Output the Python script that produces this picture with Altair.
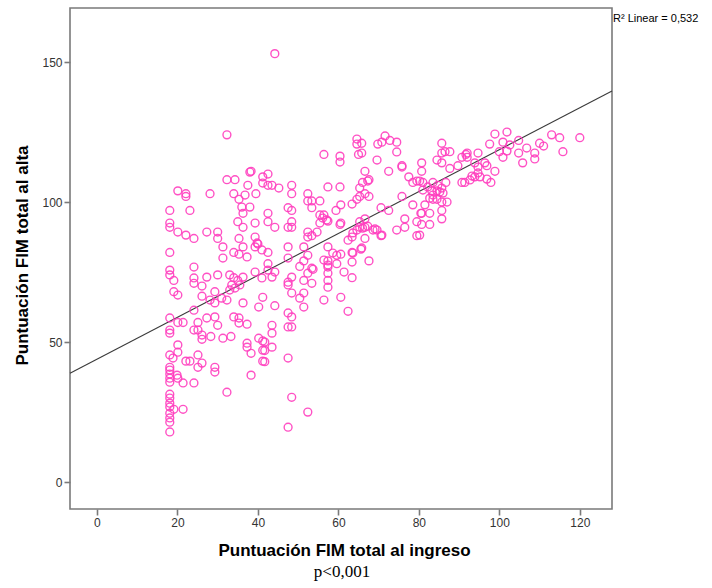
import altair as alt
import pandas as pd

# (ingreso, alta) pairs, grouped by x-range
grupo_bajo = [
    (32.3,124),(38.3,111),(32.3,108),(34.3,108),(38,110.7),(41.2,109),(41.2,106.8),
    (18.1,97),(18.1,92.5),(18.1,91),(20.1,104),(22.1,103),(22.1,102),(28.1,103),(23.1,97),(34,103),
    (35.3,101),(36,98.2),(38,98.2),(36.3,96),(35,93),(36.3,91),(39.3,92.5),(37.5,106),(39.5,103),(36.8,102.5),
    (20.1,89.3),(22.1,88.2),(24.1,87),(27.3,89.3),(30,89.3),(30,87),(31.3,84),(31.3,80),(34,82),(35.3,81.4),
    (37.3,80.4),(35.3,87),(36.3,84),(39.3,87.5),(39.3,84),(40,85),(41,82.9),(39.8,85.4),(18.1,82),
    (24.1,76.8),(18.1,75.7),(18.1,74),(19.1,72),(24.1,72.9),(24.1,71),(26.1,70),(27.3,73.2),(30,74),(33,74),
    (34,73),(35,72),(36.3,73.2),(33.5,70.4),(35.5,70.4),(39.3,75),(41,72.9),
    (19.1,68),(20.1,66.8),(26.1,66.4),(29.3,68),(28.1,65),(29.3,64),(31,65.7),(32.3,65),(33,68.6),(34.3,69.3),
    (36.3,64),(40.2,62.5),(41.2,66),
    (18.1,58.6),(18.1,54.3),(18.1,53.2),(20.1,57),(21.4,57),(24.1,61.4),(25.1,57),(27.3,58.6),(29.3,59),(30,56),
    (25.1,54.3),(24.1,54.3),(26.1,52.5),(26.1,51),(28.3,52),(31.3,51.4),(33.3,52),(34,59),(35.3,58.6),(35.3,56.8),(37.3,56.4),
    (37.3,49.6),(37.3,48.2),(38.3,46),(40.2,51.4),(41.2,50.4),(41.2,47.1),(41.2,43.2),(38.3,38.2),(18.1,45.4),(18.9,44.3),
    (20.1,49),(20.1,46.4),(22.1,43.2),(23.1,43.2),(25.1,45.4),(26.1,42.5),(25.1,41),(29.3,41),(29.3,39.3),
    (18.1,41),(18.1,40),(18.1,38.6),(18.1,37.1),(19.9,38.2),(20.1,37.1),(21.4,35.4),(24.1,35.4),(18.1,35.7),(32.3,32.1),
    (18.1,31.4),(18.1,30),(18.1,28.2),(18.1,26.8),(19.1,26),(21.4,26),(18.1,24.6),(18.1,22.9),(18.1,21.4),(18.1,17.9),
]
grupo_medio = [
    (44.2,153),(42.5,110),(42.5,106),(43.5,106),(45.2,105),(48.4,106),(48.4,103),(52.4,103),(52.4,100.4),(53.4,100.4),
    (53.4,98),(55.4,100.4),(57.4,105.4),(60.4,105.4),(59.4,97),(60.6,99),(63.4,99.3),(64.6,101),(56.4,117),(60.4,116.4),
    (60.4,114.3),(64.6,120.7),(64.6,122.5),(65,117),
    (47.5,98),(48.4,97),(42.5,96),(42.5,93),(44.2,91),(47.5,91),(48.4,93),(48.4,91),(55.4,95.4),(56.1,94.3),(57.1,93.6),
    (55.4,92.5),(54.7,89.3),(52.4,89.3),(52.4,87.5),(53.4,88),(60.6,92.5),(62.4,86.4),(63.4,87.5),(63.6,89),(64.6,90),
    (63.4,82),(57.4,93.2),(60.4,92),(56.4,95.4),
    (42.5,82),(42.5,78),(47.5,84),(47.5,80),(51.4,84),(51.4,79),(52.4,81),(50.4,77),(53.4,76.4),(52.4,74.6),(57.4,84),
    (57.4,79),(58.6,81.8),(59.6,81),(60.6,81.4),(56.4,79.3),(57.4,77.5),(59.6,78),(61.4,75),(63.4,78.6),(63.4,73),
    (63.6,81.8),(65.6,83.2),(53.7,76),
    (42.5,75.7),(43.5,73.2),(44.2,75),(47.5,71.4),(47.5,70.4),(48.4,73.2),(48.4,67.5),(51.4,72),(53.4,71),(51.4,67.5),
    (50.4,65.7),(51.4,62.5),(57.4,76.8),(57.4,74.6),(57.4,72),(57.4,69.6),(56.4,65),(60.6,66),(62.4,61),
    (44.2,63),(47.5,60.4),(48.4,59),(47.5,55.4),(48.4,55.4),(43.5,56),(43.5,53.2),(43.5,48.2),(41.7,50),(41.7,47),
    (41.7,43),(47.5,44.3),(48.4,30.3),(52.4,25),(47.5,19.6),
]
grupo_alto = [
    (71.6,123.6),(72.8,122),(69.8,120.7),(70.8,121.4),(74.5,121.4),(74.5,117.9),(69.6,115),(65.8,121),(65.8,117.5),
    (75.8,113),(75.8,112.5),(72.5,111),(66.6,111),(67.6,108),(67.3,107.5),(66,107),(66.6,103),(67.6,102),(65.3,105),(65.3,102),
    (85.7,121),(85.7,117.5),(86.5,118),(87.7,118),(84.5,115),(85.7,114),(80.7,114),(80.7,111),(87.7,112),(89.7,113),
    (90.7,116),(90.7,107),
    (77.5,109),(78.5,107),(79.5,107.5),(80.2,107.5),(81,107),(83.5,107),(86.7,107),(83.2,104),(84.5,104),(85.2,103.6),
    (85.7,105),(82.7,101.4),(83.5,101),(84.5,101),(85.7,100),(87,100),(85.7,97),(85.7,94),(81,104.3),(82.2,105.4),
    (84.7,106),(86,103.2),(83.5,102.5),
    (75.8,102),(78.5,99),(81.5,99),(80.5,96),(82.7,96),(76.5,94),(76.5,91),(79.5,93),(80.7,92),(82.7,92),(79.5,88),
    (74.5,90),(70.6,98),(72.5,97),(80.2,88.2),(80.7,96),
    (66.6,94),(65.3,93),(66.6,91),(65.3,91),(66.6,87),(68.6,90),(69.6,90),(70.6,88),(65.8,83.6),(67.6,79),(66,90.7),
    (67.3,91.4),(69.1,90.4),(70.8,88.2),
]
grupo_max = [
    (101.9,125),(98.9,124.3),(120,123),(113,124),(115,123),(104.8,122),(97.6,120.7),(100.9,121.4),(102.6,120.4),
    (110,121),(111,120),(100,118),(101.9,118.2),(106.8,119.3),(115.8,118),(104.8,117.5),(108.8,117.5),(108.8,115.4),
    (105.8,114),(100.9,116),(94.7,117.5),(92,117.5),(92,116),(91.7,117),(96.4,114),(96.9,113),(94.7,112.5),(93.9,114),
    (98.9,111),(94.7,110.4),(93.2,109.3),(93.9,109),(95.2,109),(92.7,107.9),(96.9,108.2),(97.9,107),(91.4,107),
]

# Linear fit (R2 = 0,532)
fit_intercept = 43.9
fit_slope = 0.748
x_domain = [-6.7, 128]
y_domain = [-9.6, 169.3]
x_ticks = [0, 20, 40, 60, 80, 100, 120]
y_ticks = [0, 50, 100, 150]

puntos = grupo_bajo + grupo_medio + grupo_alto + grupo_max
df = pd.DataFrame(puntos, columns=["ingreso", "alta"])
fit_df = pd.DataFrame({"ingreso": x_domain,
                       "alta": [fit_intercept + fit_slope * v for v in x_domain]})

xs = alt.Scale(domain=x_domain, nice=False, zero=False)
ys = alt.Scale(domain=y_domain, nice=False, zero=False)

axis_common = dict(grid=False, domain=False, tickColor="#7a7a7a", tickWidth=1.6,
                   tickSize=6, labelColor="#333333", labelFontSize=12,
                   labelFont="Liberation Sans", titleFont="Liberation Sans",
                   titleFontSize=17, titleFontWeight="bold", titleColor="#000000")

x_axis = alt.Axis(values=x_ticks, title="Puntuación FIM total al ingreso",
                  labelPadding=2, titleX=274, titleY=41, titleBaseline="middle",
                  titleAnchor="middle", titleAlign="center", **axis_common)
y_axis = alt.Axis(values=y_ticks, title="Puntuación FIM total al alta",
                  labelPadding=2, titleX=-48, titleY=247, titleAngle=-90,
                  titleBaseline="middle", titleAlign="center", **axis_common)

scatter = alt.Chart(df).mark_point(shape="circle", filled=False, size=62,
                                   strokeWidth=1.4, color="#ff3fbf", opacity=0.9).encode(
    x=alt.X("ingreso:Q", scale=xs, axis=x_axis),
    y=alt.Y("alta:Q", scale=ys, axis=y_axis),
)

linea = alt.Chart(fit_df).mark_line(color="#3a3a3a", strokeWidth=1.1).encode(
    x=alt.X("ingreso:Q", scale=xs),
    y=alt.Y("alta:Q", scale=ys),
)

r2 = alt.Chart(pd.DataFrame({"t": ["R² Linear = 0,532"]})).mark_text(
    align="left", baseline="middle", fontSize=11, font="Liberation Sans", color="#000000", dx=1
).encode(x=alt.value(542), y=alt.value(11), text="t:N")

pval = alt.Chart(pd.DataFrame({"t": ["p<0,001"]})).mark_text(
    align="center", baseline="middle", fontSize=17, font="Liberation Serif", color="#000000"
).encode(x=alt.value(272), y=alt.value(564), text="t:N")

chart = alt.layer(linea, scatter, r2, pval).properties(
    width=542, height=501,
    padding={"left": 70, "top": 8, "right": 100, "bottom": 79},
    autosize=alt.AutoSizeParams(type="none"),
).configure(
    background="white",
    view=alt.ViewConfig(stroke="#7a7a7a", strokeWidth=1.6),
)

chart.save("out.html", embed_options={"renderer": "svg", "actions": False})
